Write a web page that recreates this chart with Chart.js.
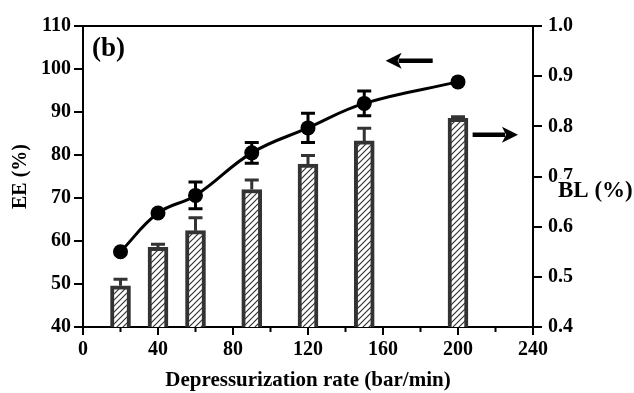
<!DOCTYPE html>
<html>
<head>
<meta charset="utf-8">
<script src="https://cdn.jsdelivr.net/npm/chart.js@4/dist/chart.umd.min.js"></script>
<style>
  html, body { margin: 0; padding: 0; background: #fff; }
  #wrap { width: 634px; height: 393px; }
</style>
</head>
<body>
<div id="wrap"><canvas id="c" width="634" height="393"></canvas></div>
<script>
// Depressurization rate (bar/min)
const rates = [20, 40, 60, 90, 120, 150, 200];
// Encapsulation efficiency EE (%), left axis
const eeValues = [57.5, 66.5, 70.6, 80.5, 86.3, 92.0, 97.0];
const eeErrors = [0, 0, 3.1, 2.4, 3.4, 2.9, 0];
// BL (%), right axis
const blValues = [0.482, 0.559, 0.592, 0.674, 0.725, 0.771, 0.816];
const blErrors = [0.013, 0.006, 0.026, 0.019, 0.017, 0.025, 0.003];
// Axis ticks
const xTicks = [0, 40, 80, 120, 160, 200, 240];
const xMinorTicks = [20, 60, 100, 140, 180, 220];
const eeTicks = [40, 50, 60, 70, 80, 90, 100, 110];
const blTicks = [0.4, 0.5, 0.6, 0.7, 0.8, 0.9, 1.0];

const SERIF = "'Liberation Serif', 'Times New Roman', serif";

function hatchPattern() {
  const t = document.createElement('canvas');
  t.width = 6; t.height = 6;
  const g = t.getContext('2d');
  g.fillStyle = '#fff';
  g.fillRect(0, 0, 6, 6);
  g.strokeStyle = '#333';
  g.lineWidth = 1.2;
  g.beginPath();
  g.moveTo(-1, 7); g.lineTo(7, -1);
  g.moveTo(-4, 4); g.lineTo(4, -4);
  g.moveTo(2, 10); g.lineTo(10, 2);
  g.stroke();
  return document.getElementById('c').getContext('2d').createPattern(t, 'repeat');
}

function drawArrow(ctx, x1, y, x2) {
  const dir = Math.sign(x2 - x1);
  const hl = 16, hw = 8;
  ctx.lineWidth = 4.5;
  ctx.beginPath();
  ctx.moveTo(x1, y);
  ctx.lineTo(x2 - dir * (hl - 3), y);
  ctx.stroke();
  ctx.beginPath();
  ctx.moveTo(x2, y);
  ctx.lineTo(x2 - dir * hl, y - hw);
  ctx.lineTo(x2 - dir * (hl - 4), y);
  ctx.lineTo(x2 - dir * hl, y + hw);
  ctx.closePath();
  ctx.fill();
}

function errorBar(ctx, px, pyTop, pyBottom, cap) {
  ctx.beginPath();
  ctx.moveTo(px, pyTop); ctx.lineTo(px, pyBottom);
  ctx.moveTo(px - cap / 2, pyTop); ctx.lineTo(px + cap / 2, pyTop);
  ctx.moveTo(px - cap / 2, pyBottom); ctx.lineTo(px + cap / 2, pyBottom);
  ctx.stroke();
}

const decorations = {
  id: 'decorations',
  afterDatasetsDraw(chart) {
    const { ctx, chartArea: a, scales } = chart;
    const x = scales.x, y = scales.y, y2 = scales.y2;
    ctx.save();

    // frame top
    ctx.strokeStyle = '#000';
    ctx.lineWidth = 2;
    ctx.beginPath();
    ctx.moveTo(a.left - 1, a.top);
    ctx.lineTo(a.right + 1, a.top);
    ctx.stroke();

    // minor ticks on the x axis
    ctx.beginPath();
    xMinorTicks.forEach(v => {
      const px = x.getPixelForValue(v);
      ctx.moveTo(px, a.bottom);
      ctx.lineTo(px, a.bottom + 5);
    });
    ctx.stroke();

    // BL error bars (upper half, above the bar)
    ctx.strokeStyle = '#333';
    ctx.lineWidth = 3;
    rates.forEach((r, i) => {
      if (!blErrors[i]) return;
      const px = x.getPixelForValue(r);
      const top = y2.getPixelForValue(blValues[i] + blErrors[i]);
      const base = y2.getPixelForValue(blValues[i]);
      ctx.beginPath();
      ctx.moveTo(px, base); ctx.lineTo(px, top);
      ctx.moveTo(px - 7, top); ctx.lineTo(px + 7, top);
      ctx.stroke();
    });

    // EE error bars
    ctx.strokeStyle = '#000';
    ctx.lineWidth = 3;
    rates.forEach((r, i) => {
      if (!eeErrors[i]) return;
      const px = x.getPixelForValue(r);
      errorBar(ctx, px, y.getPixelForValue(eeValues[i] + eeErrors[i]),
               y.getPixelForValue(eeValues[i] - eeErrors[i]), 14);
    });

    // arrows pointing to the axis each series belongs to
    ctx.fillStyle = '#000';
    ctx.strokeStyle = '#000';
    drawArrow(ctx, x.getPixelForValue(186.5), y.getPixelForValue(101.9), x.getPixelForValue(161.4));
    drawArrow(ctx, x.getPixelForValue(207.8), y.getPixelForValue(84.7), x.getPixelForValue(232.0));

    // panel label
    ctx.font = 'bold 27px ' + SERIF;
    ctx.textBaseline = 'alphabetic';
    ctx.textAlign = 'left';
    ctx.fillText('(b)', 92, 56);

    // right axis title
    ctx.font = 'bold 23px ' + SERIF;
    const label = 'BL (%)';
    const w = ctx.measureText(label).width;
    ctx.fillStyle = '#fff';
    ctx.fillRect(557, 179, w + 4, 24);
    ctx.fillStyle = '#000';
    ctx.fillText(label, 558, 197);

    ctx.restore();
  }
};

const axisGrid = {
  drawOnChartArea: false,
  color: '#000',
  lineWidth: 2,
  tickColor: '#000',
  tickWidth: 2,
  tickLength: 9
};
const axisBorder = { display: true, color: '#000', width: 2 };
const tickFont = { family: SERIF, size: 20, weight: 'bold' };

new Chart(document.getElementById('c'), {
  type: 'line',
  data: {
    datasets: [
      {
        type: 'line',
        label: 'EE (%)',
        data: rates.map((r, i) => ({ x: r, y: eeValues[i] })),
        yAxisID: 'y',
        borderColor: '#000',
        borderWidth: 3,
        tension: 0.4,
        pointRadius: 7.5,
        pointBackgroundColor: '#000',
        pointBorderWidth: 0,
        order: 0
      },
      {
        type: 'bar',
        label: 'BL (%)',
        data: rates.map((r, i) => ({ x: r, y: blValues[i] })),
        yAxisID: 'y2',
        barThickness: 20,
        borderWidth: 4,
        borderColor: '#333',
        borderSkipped: false,
        backgroundColor: hatchPattern(),
        order: 1
      }
    ]
  },
  options: {
    responsive: false,
    animation: false,
    events: [],
    layout: { padding: { top: 26, left: 0, right: 0, bottom: 0 } },
    plugins: { legend: { display: false }, tooltip: { enabled: false } },
    scales: {
      x: {
        type: 'linear',
        min: 0, max: 240,
        offset: false,
        afterBuildTicks: s => { s.ticks = xTicks.map(v => ({ value: v })); },
        afterFit: s => { s.height = 66; },
        grid: Object.assign({}, axisGrid, { tickLength: 8, offset: false }),
        border: axisBorder,
        ticks: { font: tickFont, color: '#000', padding: 3, maxRotation: 0 },
        title: {
          display: true,
          text: 'Depressurization rate (bar/min)',
          font: { family: SERIF, size: 21, weight: 'bold' },
          color: '#000',
          padding: { top: 0, bottom: 0 }
        }
      },
      y: {
        type: 'linear',
        position: 'left',
        min: 40, max: 110,
        afterBuildTicks: s => { s.ticks = eeTicks.map(v => ({ value: v })); },
        afterFit: s => { s.width = 83; },
        grid: axisGrid,
        border: axisBorder,
        ticks: { font: tickFont, color: '#000', padding: 3 },
        title: {
          display: true,
          text: 'EE (%)',
          font: { family: SERIF, size: 20, weight: 'bold' },
          color: '#000',
          padding: { top: 9, bottom: 0 }
        }
      },
      y2: {
        type: 'linear',
        position: 'right',
        min: 0.4, max: 1.0,
        afterBuildTicks: s => { s.ticks = blTicks.map(v => ({ value: v })); },
        afterFit: s => { s.width = 101; },
        grid: axisGrid,
        border: axisBorder,
        ticks: { font: tickFont, color: '#000', padding: 6, callback: v => Number(v).toFixed(1) }
      }
    }
  },
  plugins: [decorations]
});
</script>
</body>
</html>
